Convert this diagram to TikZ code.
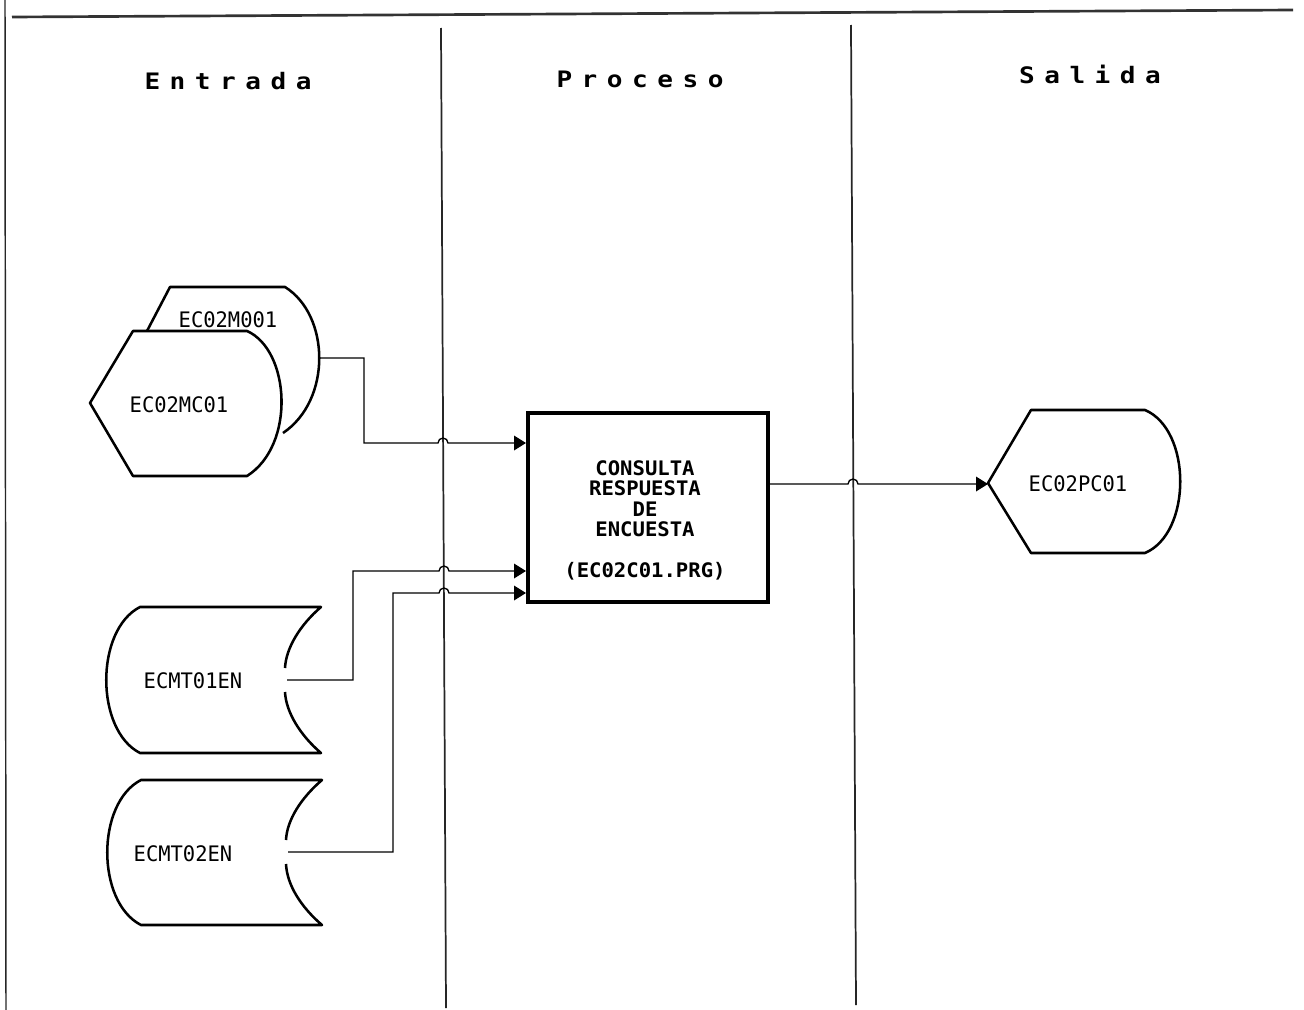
\documentclass[tikz,border=0pt]{standalone}
\usepackage{fontspec}
\usetikzlibrary{arrows.meta}
\newfontfamily\lblfont[FakeStretch=0.96]{DejaVu Sans Mono}
\newfontfamily\boxfont[FakeStretch=1.03]{DejaVu Sans Mono}
\newfontfamily\hdrfont[FakeStretch=1.15,LetterSpace=42]{DejaVu Sans Mono}
\begin{document}
\begin{tikzpicture}[x=0.75pt,y=-0.75pt,
  frameline/.style={line width=1.1pt,black!85},
  topline/.style={line width=2pt,black!80},
  laneline/.style={line width=1.3pt,black!85},
  shapeline/.style={line width=1.9pt,line join=round,black},
  procbox/.style={draw,line width=3pt,minimum width=180pt,minimum height=141.75pt,inner sep=0pt},
  conn/.style={line width=1pt,black,-{Triangle[length=9pt,width=11pt]}},
  hdr/.style={anchor=base,inner sep=0pt,font=\hdrfont\bfseries\fontsize{17}{19}\selectfont},
  lbl/.style={anchor=base,inner sep=0pt,font=\lblfont\fontsize{16}{18}\selectfont},
  boxtxt/.style={anchor=north,inner sep=0pt,align=center,font=\boxfont\bfseries\fontsize{15}{15.4}\selectfont}]
\useasboundingbox (0,0) rectangle (1304,1010);
% frame and lanes
\draw[frameline] (5,0) -- (6,1010);
\draw[topline] (12,17) -- (1293,10);
\coordinate (l1t) at (441,28); \coordinate (l1b) at (446,1008);
\coordinate (l2t) at (851,25); \coordinate (l2b) at (856,1005);
\draw[laneline] (l1t) -- (l1b);
\draw[laneline] (l2t) -- (l2b);
% headers
\node[hdr] (hEnt) at (228,89) {Entrada};
\node[hdr] (hPro) at (640,87) {Proceso};
\node[hdr] (hSal) at (1090,83) {Salida};
% displays (input)
\draw[shapeline] (147,331) -- (170,287) -- (285,287) .. controls (330,315) and (332,400) .. (283,433);
\coordinate (m001out) at (320,358);
\draw[shapeline,fill=white] (90,403) -- (133,331) -- (247,331) .. controls (290,350) and (296,445) .. (247,476) -- (133,476) -- cycle;
\node[lbl] (tM001) at (228,327) {EC02M001};
\node[lbl] (tMC01) at (179,412) {EC02MC01};
% process
\node[procbox] (proc) at (648,507.5) {};
\node[boxtxt] (ptxt) at (645,460) {CONSULTA\\RESPUESTA\\DE\\ENCUESTA\\[15.4pt](EC02C01.PRG)};
% output display
\draw[shapeline] (988,483) -- (1031,410) -- (1145,410) .. controls (1192,430) and (1192,533) .. (1145,553) -- (1031,553) -- cycle;
\coordinate (pc01in) at (988,484);
\node[lbl] (tPC01) at (1078,491) {EC02PC01};
% storage 1
\draw[shapeline] (285,668) .. controls (286,648) and (300,625) .. (321,607) -- (140,607) .. controls (95,630) and (95,730) .. (140,753) -- (321,753) .. controls (300,735) and (286,712) .. (285,692);
\coordinate (mt01out) at (287,680);
\node[lbl] (tMT01) at (193,688) {ECMT01EN};
% storage 2
\draw[shapeline] (286,840) .. controls (287,820) and (301,798) .. (322,780) -- (141,780) .. controls (96,803) and (96,902) .. (141,925) -- (322,925) .. controls (301,907) and (287,885) .. (286,864);
\coordinate (mt02out) at (288,852);
\node[lbl] (tMT02) at (183,861) {ECMT02EN};
% connectors
\draw[conn] (m001out) -- (364,358) -- (364,443) -- (438,443) arc[start angle=180,end angle=360,radius=5] -- (proc.west |- 0,443);
\draw[conn] (mt01out) -- (353,680) -- (353,571) -- (439,571) arc[start angle=180,end angle=360,radius=5] -- (proc.west |- 0,571);
\draw[conn] (mt02out) -- (393,852) -- (393,593) -- (439,593) arc[start angle=180,end angle=360,radius=5] -- (proc.west |- 0,593);
\draw[conn] (proc.east |- 0,484) -- (848,484) arc[start angle=180,end angle=360,radius=5] -- (pc01in);
\end{tikzpicture}
\end{document}
